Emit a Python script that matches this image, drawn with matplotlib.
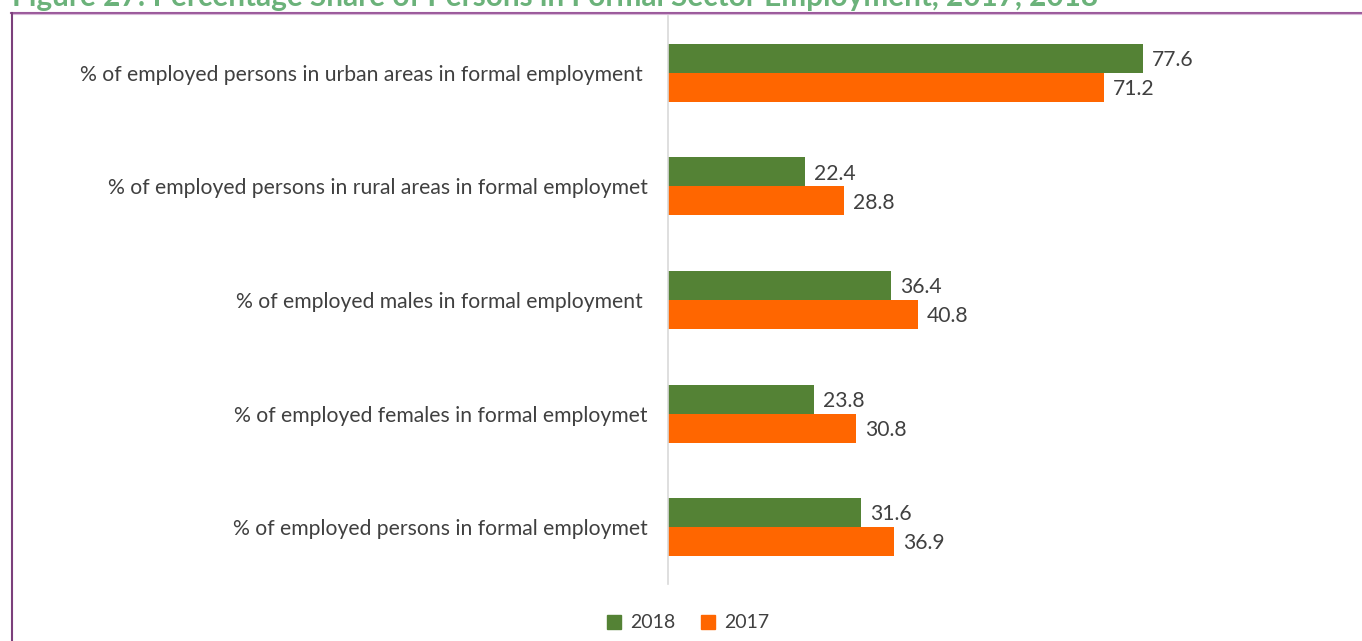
import matplotlib
matplotlib.use("Agg")
import matplotlib.pyplot as plt
from matplotlib.lines import Line2D
from matplotlib.patches import Patch
import numpy as np

categories = [
    "% of employed persons in urban areas in formal employment ",
    "% of employed persons in rural areas in formal employmet",
    "% of employed males in formal employment ",
    "% of employed females in formal employmet",
    "% of employed persons in formal employmet",
]
values_2018 = [77.6, 22.4, 36.4, 23.8, 31.6]
values_2017 = [71.2, 28.8, 40.8, 30.8, 36.9]
series_labels = ["2018", "2017"]

GREEN = "#548235"
ORANGE = "#FF6600"
TEXT = "#404040"
FONT = ["Lato", "DejaVu Sans"]
FS = 15.2

W, H = 1362, 641
fig = plt.figure(figsize=(W / 100, H / 100), dpi=100)

# plot area in pixel terms
left_px, right_px, top_px, bottom_px = 668, 1341, 16, 584
ax = fig.add_axes([left_px / W, 1 - bottom_px / H,
                   (right_px - left_px) / W, (bottom_px - top_px) / H])

pos = np.arange(len(categories))
bh = 0.256
ax.barh(pos - bh / 2, values_2018, height=bh, color=GREEN, label=series_labels[0])
ax.barh(pos + bh / 2, values_2017, height=bh, color=ORANGE, label=series_labels[1])

ax.set_xlim(0, 110)
ax.set_ylim(len(categories) - 0.5, -0.5)

for y, v in zip(pos - bh / 2, values_2018):
    ax.annotate(f"{v:.1f}", (v, y), xytext=(6.5, -1.2), textcoords="offset points",
                va="center", ha="left", fontsize=FS, color=TEXT, family=FONT)
for y, v in zip(pos + bh / 2, values_2017):
    ax.annotate(f"{v:.1f}", (v, y), xytext=(6.5, -1.2), textcoords="offset points",
                va="center", ha="left", fontsize=FS, color=TEXT, family=FONT)

ax.set_yticks(pos)
ax.set_yticklabels(categories, fontsize=FS, color=TEXT, family=FONT)
ax.tick_params(axis="y", length=0, pad=14.4)
ax.set_xticks([])
for s in ["top", "right", "bottom"]:
    ax.spines[s].set_visible(False)
ax.spines["left"].set_color("#D9D9D9")
ax.spines["left"].set_linewidth(1.2)

handles = [Patch(color=GREEN), Patch(color=ORANGE)]
fig.legend(handles, series_labels, loc="center", bbox_to_anchor=(688 / W, 1 - 623 / H),
           ncol=2, frameon=False, prop={"family": FONT, "size": 14},
           labelcolor=TEXT, handlelength=0.75, handleheight=0.75,
           handletextpad=0.45, columnspacing=1.3)

# heading above the frame, partly beyond the top edge
fig.text(12 / W, 1 - 6 / H,
         "Figure 27: Percentage Share of Persons in Formal Sector Employment, 2017, 2018",
         fontsize=21.4, fontweight="bold", color="#6BB27A", family=FONT,
         ha="left", va="baseline")

# frame lines
fig.add_artist(Line2D([11 / W, 1], [1 - 12.5 / H, 1 - 12.5 / H], color="#9B5A9B", lw=1.5))
fig.add_artist(Line2D([11 / W, 1], [1 - 14 / H, 1 - 14 / H], color="#D8B8D8", lw=0.8))
fig.add_artist(Line2D([11.5 / W, 11.5 / W], [0, 1 - 12.5 / H], color="#7B3F7B", lw=1.5))

fig.savefig("out.png", dpi=100)
